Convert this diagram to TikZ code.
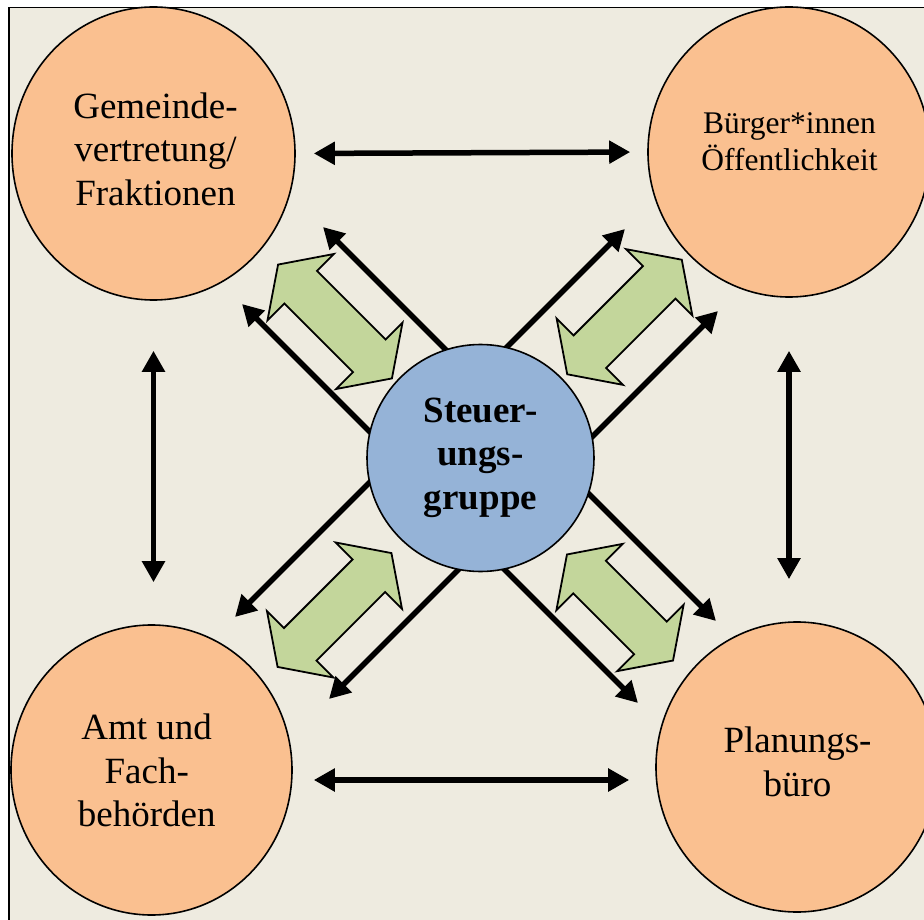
\documentclass[tikz,border=0pt]{standalone}
\usepackage{fontspec}
\setmainfont{Liberation Serif}
\usetikzlibrary{arrows.meta,shapes.geometric}
\definecolor{bgbeige}{HTML}{EEEBE0}
\definecolor{orangefill}{HTML}{FAC090}
\definecolor{bluefill}{HTML}{95B3D7}
\definecolor{greenfill}{HTML}{C3D69B}
\tikzset{
  party/.style={ellipse, draw=black, line width=1.6pt, fill=orangefill, inner sep=0pt},
  hub/.style={circle, draw=black, line width=1.6pt, fill=bluefill, inner sep=0pt, minimum size=227pt},
  bigtext/.style={align=center, font=\fontsize{37}{43.5}\selectfont, inner sep=0pt},
  flowarrow/.style={line width=5.5pt, -{Triangle[length=21pt,width=22pt]}},
  dblarrow/.style={line width=5.5pt, {Triangle[length=21pt,width=22pt]}-{Triangle[length=21pt,width=22pt]}},
  greenarrow/.style={draw=black, line width=1.8pt, fill=greenfill, line join=miter}
}
\newcommand{\greenblock}[4]{%
  \filldraw[greenarrow, shift={(#1,#2)}, rotate=#3]
    (#4,0) -- ({#4-32},47) -- ({#4-32},23) -- ({-#4+32},23) -- ({-#4+32},47)
    -- ({-#4},0) -- ({-#4+32},-47) -- ({-#4+32},-23) -- ({#4-32},-23) -- ({#4-32},-47) -- cycle;}
\begin{document}
\begin{tikzpicture}[x=1pt,y=-1pt]
\useasboundingbox (0,0) rectangle (924,920);
\begin{scope}
\clip (0,0) rectangle (924,920);
\fill[white] (0,0) rectangle (924,920);
\draw[fill=bgbeige, line width=1.6pt] (9,7.5) rectangle (960,960);

% outer circles
\node[party, minimum width=283pt, minimum height=293pt] (tl) at (153.5,153.5) {};
\node[party, minimum width=282pt, minimum height=290pt] (tr) at (789,152) {};
\node[party, minimum width=281pt, minimum height=290pt] (bl) at (151.5,770) {};
\node[party, minimum width=282pt, minimum height=290pt] (br) at (797,767) {};

% connectors between outer circles
\draw[dblarrow, shorten <=18pt, shorten >=17pt] (tl.east) -- (tr.west);
\draw[dblarrow, shorten <=21pt, shorten >=26pt] ([yshift=-10pt]bl.east) -- ([yshift=-10pt]bl.east -| br.west);
\draw[dblarrow, shorten <=50pt, shorten >=42pt] (tl.south) -- (tl.south |- bl.north);
\draw[dblarrow, shorten <=53pt, shorten >=42pt] (tr.south) -- (tr.south |- br.north);

% diagonal arrows
\coordinate (tlAs) at (453.8,357.8); \coordinate (tlAe) at (323,227);
\coordinate (tlBs) at (374.6,436.6); \coordinate (tlBe) at (242,304);
\coordinate (trAs) at (502,352);     \coordinate (trAe) at (625,229);
\coordinate (trBs) at (589.3,439.7); \coordinate (trBe) at (718,311);
\coordinate (blAs) at (373.6,478.4); \coordinate (blAe) at (235,617);
\coordinate (blBs) at (461.6,566.4); \coordinate (blBe) at (329,699);
\coordinate (brAs) at (580.4,485.4); \coordinate (brAe) at (716,621);
\coordinate (brBs) at (500.4,565.4); \coordinate (brBe) at (638,703);
\draw[flowarrow] (tlAs) -- (tlAe);
\draw[flowarrow] (tlBs) -- (tlBe);
\draw[flowarrow] (trAs) -- (trAe);
\draw[flowarrow] (trBs) -- (trBe);
\draw[flowarrow] (blAs) -- (blAe);
\draw[flowarrow] (blBs) -- (blBe);
\draw[flowarrow] (brAs) -- (brAe);
\draw[flowarrow] (brBs) -- (brBe);

% green double block arrows
\greenblock{335}{321.5}{-45}{80.5}
\greenblock{624.5}{317}{45}{81}
\greenblock{334.5}{610}{45}{80.5}
\greenblock{620}{607.5}{-45}{75}

% centre
\node[hub] (c) at (480.5,458) {};

% texts
\node[bigtext] (tlt) at (155.5,149) {Gemeinde-\\vertretung/\\Fraktionen};
\node[align=center, font=\fontsize{31.5}{37}\selectfont, inner sep=0pt] (trt) at (789.5,141.8) {Bürger*innen\\Öffentlichkeit};
\node[bigtext] (blt) at (146.7,770.8) {Amt und\\Fach-\\behörden};
\node[bigtext] (brt) at (797.5,762) {Planungs-\\büro};
\node[bigtext, font=\bfseries\fontsize{37}{43.5}\selectfont] (ct) at (480.5,457.8) {Steuer-\\ungs-\\gruppe};
\end{scope}
\end{tikzpicture}
\end{document}
